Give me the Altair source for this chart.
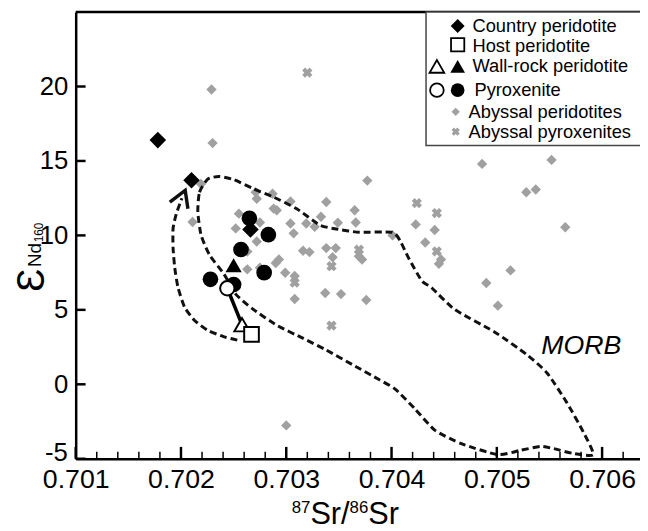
import altair as alt
import pandas as pd

# ---------------- data ----------------
country_x = [0.70178, 0.70210, 0.70266]
country_y = [16.4, 13.7, 10.4]

host_x = [0.70267]
host_y = [3.35]

wall_open_x = [0.70258]
wall_open_y = [4.0]
wall_fill_x = [0.70250]
wall_fill_y = [8.0]

pyx_open_x = [0.70244]
pyx_open_y = [6.45]
pyx_fill_x = [0.70228, 0.70250, 0.70279, 0.70265, 0.70283, 0.70257]
pyx_fill_y = [7.05, 6.70, 7.50, 11.15, 10.05, 9.05]

aby_per_x = [0.70229, 0.70230, 0.70219, 0.70211,
             0.70486, 0.70552, 0.70528, 0.70537, 0.70565, 0.70513, 0.70490, 0.70501,
             0.70423, 0.70441, 0.70432, 0.70447, 0.70445, 0.70401,
             0.70377, 0.70271, 0.70272, 0.70287, 0.70288, 0.70291, 0.70304, 0.70338, 0.70365,
             0.70255, 0.70252, 0.70275, 0.70272, 0.70304, 0.70307, 0.70319, 0.70327, 0.70333,
             0.70349, 0.70366,
             0.70316, 0.70322, 0.70338, 0.70347, 0.70344, 0.70293, 0.70290, 0.70263, 0.70275,
             0.70299, 0.70308,
             0.70372, 0.70369, 0.70308, 0.70337, 0.70352, 0.70376, 0.70300, 0.70263]
aby_per_y = [19.8, 16.2, 13.45, 10.9,
             14.8, 15.07, 12.9, 13.08, 10.55, 7.65, 6.8, 5.28,
             10.74, 10.36, 9.52, 8.38, 8.09, 10.0,
             13.68, 12.9, 12.46, 12.8, 11.8, 11.69, 12.28, 12.24, 11.69,
             11.46, 10.47, 10.87, 9.59, 10.8, 10.14, 10.8, 10.58, 11.25,
             10.85, 10.87,
             8.97, 8.88, 9.15, 9.15, 8.53, 8.38, 8.15, 7.72, 7.83,
             7.49, 7.27,
             8.38, 8.6, 5.73, 6.13, 6.06, 5.66, -2.76, 8.92]

aby_pyx_x = [0.70320, 0.70424, 0.70443, 0.70443, 0.70369, 0.70343, 0.70308, 0.70343]
aby_pyx_y = [20.93, 12.17, 11.5, 8.93, 9.04, 7.93, 6.83, 3.94]

morb_x = [0.702160, 0.702176, 0.702254, 0.702363, 0.702504, 0.702692, 0.702880, 0.703099,
          0.703317, 0.703474, 0.703693, 0.704007, 0.704085, 0.704162, 0.704288, 0.704382,
          0.704601, 0.704977, 0.705289, 0.705477, 0.705665, 0.705822, 0.705916, 0.705728,
          0.705540, 0.705415, 0.705227, 0.705008, 0.704664, 0.704413, 0.704225, 0.704038,
          0.703881, 0.703631, 0.703380, 0.703162, 0.702911, 0.702680, 0.702520, 0.702410,
          0.702270, 0.702191]
morb_y = [11.58, 12.90, 13.78, 13.96, 13.74, 13.12, 12.57, 11.79,
          10.70, 10.43, 10.21, 10.21, 9.59, 8.48, 6.94, 6.48,
          5.02, 3.52, 1.97, 0.76, -1.23, -3.21, -4.72, -4.65,
          -4.32, -4.17, -4.43, -4.72, -3.99, -3.09, -1.67, -0.34,
          0.32, 1.31, 2.30, 3.08, 3.96, 5.07, 6.06, 7.38,
          8.71, 10.03]

arrow_x = [0.702535, 0.702410, 0.702254, 0.702129, 0.702035, 0.701972, 0.701941,
           0.701925, 0.701925, 0.701956, 0.702009]
arrow_y = [2.97, 3.19, 3.63, 4.29, 5.17, 6.50, 7.82, 9.15, 10.47, 11.46, 12.50]
head_x = [0.701894, 0.702040, 0.702066]
head_y = [12.24, 13.03, 11.79]

x_major = [0.701, 0.702, 0.703, 0.704, 0.705, 0.706]
x_minor = [0.7012, 0.7014, 0.7016, 0.7018, 0.7022, 0.7024, 0.7026, 0.7028,
           0.7032, 0.7034, 0.7036, 0.7038, 0.7042, 0.7044, 0.7046, 0.7048,
           0.7052, 0.7054, 0.7056, 0.7058, 0.7062]
y_major = [-5, 0, 5, 10, 15, 20]
y_axis_labels = [0, 5, 10, 15, 20]
y_low_label = "-5"

legend_labels = ["Country peridotite", "Host peridotite", "Wall-rock peridotite",
                 "Pyroxenite", "Abyssal peridotites", "Abyssal pyroxenites"]

# ---------------- layout ----------------
X_MIN, X_MAX = 0.701, 0.70636
Y_MIN, Y_MAX = -5, 25
W, H = 571, 452
GRAY = "#a0a0a0"
FONT = "Liberation Sans"

xscale = alt.Scale(domain=[X_MIN, X_MAX], nice=False, zero=False)
yscale = alt.Scale(domain=[Y_MIN, Y_MAX], nice=False, zero=False)

xaxis = alt.Axis(values=x_major, format=".3f", title=None, grid=False, ticks=False,
                 domainColor="black", domainWidth=2.5, labelFont=FONT,
                 labelFontSize=27, labelColor="black", labelPadding=8,
                 labelFlush=False, labelOverlap=False)
yaxis = alt.Axis(values=y_axis_labels, format="d", title=None, grid=False, ticks=False,
                 domainColor="black", domainWidth=2.5, labelFont=FONT,
                 labelFontSize=26, labelColor="black", labelPadding=8,
                 labelFlush=False, labelOverlap=False)


def X():
    return alt.X("x:Q", scale=xscale, axis=xaxis)


def Y():
    return alt.Y("y:Q", scale=yscale, axis=yaxis)


def df(xs, ys):
    return pd.DataFrame({"x": xs, "y": ys})


one = pd.DataFrame({"a": [0]})


def txt(px, py, s, size, **kw):
    return alt.Chart(one).mark_text(font=FONT, fontSize=size, color="black", **kw).encode(
        x=alt.value(px), y=alt.value(py), text=alt.value(s))


layers = []

# abyssal points
layers.append(alt.Chart(df(aby_per_x, aby_per_y)).mark_point(
    shape="diamond", filled=True, color=GRAY, size=110, opacity=1).encode(x=X(), y=Y()))
layers.append(alt.Chart(df(aby_pyx_x, aby_pyx_y)).mark_point(
    shape="cross", angle=45, filled=True, color=GRAY, size=110, opacity=1).encode(x=X(), y=Y()))

# MORB field
morb = pd.DataFrame({"x": morb_x, "y": morb_y, "o": list(range(len(morb_x)))})
layers.append(alt.Chart(morb).mark_line(
    interpolate="cardinal-closed", tension=0.4, color="#111", strokeWidth=3,
    strokeDash=[7, 4]).encode(x=X(), y=Y(), order="o:Q"))

arr = pd.DataFrame({"x": arrow_x, "y": arrow_y, "o": list(range(len(arrow_x)))})
layers.append(alt.Chart(arr).mark_line(
    interpolate="cardinal", tension=0.4, color="#111", strokeWidth=3,
    strokeDash=[7, 4]).encode(x=X(), y=Y(), order="o:Q"))
hd = pd.DataFrame({"x": head_x, "y": head_y, "o": [0, 1, 2]})
layers.append(alt.Chart(hd).mark_line(color="#111", strokeWidth=3.5).encode(
    x=X(), y=Y(), order="o:Q"))

# black symbols
layers.append(alt.Chart(df(country_x, country_y)).mark_point(
    shape="diamond", filled=True, color="black", size=280, opacity=1).encode(x=X(), y=Y()))
layers.append(alt.Chart(df(pyx_fill_x, pyx_fill_y)).mark_point(
    shape="circle", filled=True, color="black", size=250, opacity=1).encode(x=X(), y=Y()))
layers.append(alt.Chart(df(wall_fill_x, wall_fill_y)).mark_point(
    shape="triangle-up", filled=True, color="black", size=270, opacity=1).encode(x=X(), y=Y()))

# tie line open circle -> open triangle
tie = pd.DataFrame({"x": pyx_open_x + wall_open_x, "y": pyx_open_y + wall_open_y, "o": [0, 1]})
layers.append(alt.Chart(tie).mark_line(color="black", strokeWidth=3.5).encode(
    x=X(), y=Y(), order="o:Q"))

# open symbols
layers.append(alt.Chart(df(pyx_open_x, pyx_open_y)).mark_point(
    shape="circle", filled=True, fill="white", stroke="black", strokeWidth=2,
    size=210, opacity=1).encode(x=X(), y=Y()))
layers.append(alt.Chart(df(wall_open_x, wall_open_y)).mark_point(
    shape="triangle-up", filled=True, fill="white", stroke="black", strokeWidth=2,
    size=240, opacity=1).encode(x=X(), y=Y()))
layers.append(alt.Chart(df(host_x, host_y)).mark_point(
    shape="square", filled=True, fill="white", stroke="black", strokeWidth=2,
    size=220, opacity=1).encode(x=X(), y=Y()))

# inward ticks
layers.append(alt.Chart(pd.DataFrame({"x": x_major})).mark_rule(
    color="black", strokeWidth=2.5).encode(x=X(), y=alt.value(H), y2=alt.value(H - 12)))
layers.append(alt.Chart(pd.DataFrame({"x": x_minor})).mark_rule(
    color="black", strokeWidth=1.5).encode(x=X(), y=alt.value(H), y2=alt.value(H - 7)))
layers.append(alt.Chart(pd.DataFrame({"y": y_major})).mark_rule(
    color="black", strokeWidth=2.5).encode(y=Y(), x=alt.value(0), x2=alt.value(10)))
# top frame
layers.append(alt.Chart(one).mark_rule(color="black", strokeWidth=2.5).encode(
    x=alt.value(0), x2=alt.value(W), y=alt.value(0)))

# lowest y label, set a little above the corner as in the original
layers.append(txt(-8, H - 6, y_low_label, 26, align="right", baseline="middle"))

# MORB label
layers.append(txt(471, 346, "MORB", 27, fontStyle="italic", align="left",
                  baseline="alphabetic"))

# ---------------- legend ----------------
layers.append(alt.Chart(one).mark_rect(
    fill="white", stroke="#444", strokeWidth=1.5).encode(
    x=alt.value(354.5), x2=alt.value(W + 6), y=alt.value(0), y2=alt.value(135)))


def sym(px, py, **kw):
    return alt.Chart(one).mark_point(opacity=1, **kw).encode(
        x=alt.value(px), y=alt.value(py))


layers.append(sym(386.5, 14, shape="diamond", filled=True, color="black", size=200))
layers.append(sym(386.5, 33, shape="square", filled=True, fill="white", stroke="black",
                  strokeWidth=1.8, size=180))
layers.append(sym(365.5, 55, shape="triangle-up", filled=True, fill="white", stroke="black",
                  strokeWidth=1.8, size=220))
layers.append(sym(386.5, 55, shape="triangle-up", filled=True, color="black", size=220))
layers.append(sym(365.5, 79, shape="circle", filled=True, fill="white", stroke="black",
                  strokeWidth=1.8, size=190))
layers.append(sym(386.5, 79, shape="circle", filled=True, color="black", size=190))
layers.append(sym(384.5, 101, shape="diamond", filled=True, color=GRAY, size=70))
layers.append(sym(384.5, 121, shape="cross", angle=45, filled=True, color=GRAY, size=70))

leg_x = [401.5, 401.5, 401.5, 403.5, 397.5, 397.5]
leg_y = [20.5, 40, 61, 85, 107.5, 127]
for lab, lx, ly in zip(legend_labels, leg_x, leg_y):
    layers.append(txt(lx, ly, lab, 18.5, align="left", baseline="alphabetic"))

# ---------------- axis titles ----------------
# 87Sr/86Sr built from pieces so the superscripts sit like the original
layers.append(txt(218.5, 507, "87", 17, align="left", baseline="alphabetic"))
layers.append(txt(237.5, 518, "Sr/", 31, align="left", baseline="alphabetic"))
layers.append(txt(277.1, 507, "86", 17, align="left", baseline="alphabetic"))
layers.append(txt(296.0, 518, "Sr", 31, align="left", baseline="alphabetic"))

# epsilon (tall open-E letterform) + subscript Nd160, rotated
layers.append(txt(44 - 76.5, 292 - 9, "\u0190", 39, align="left", baseline="alphabetic",
                  angle=270))
layers.append(txt(41 - 76.5, 267 - 9, "Nd", 19, align="left", baseline="alphabetic",
                  angle=270))
layers.append(txt(43.5 - 76.5, 242 - 9, "160", 12, align="left", baseline="alphabetic",
                  angle=270))

chart = alt.layer(*layers).properties(
    width=W, height=H,
    autosize=alt.AutoSizeParams(type="none"),
    padding={"left": 68.5, "top": 1, "right": 0, "bottom": 70},
).configure_view(stroke=None).configure(background="white")

chart.save("out.html", embed_options={"renderer": "svg", "actions": False})
